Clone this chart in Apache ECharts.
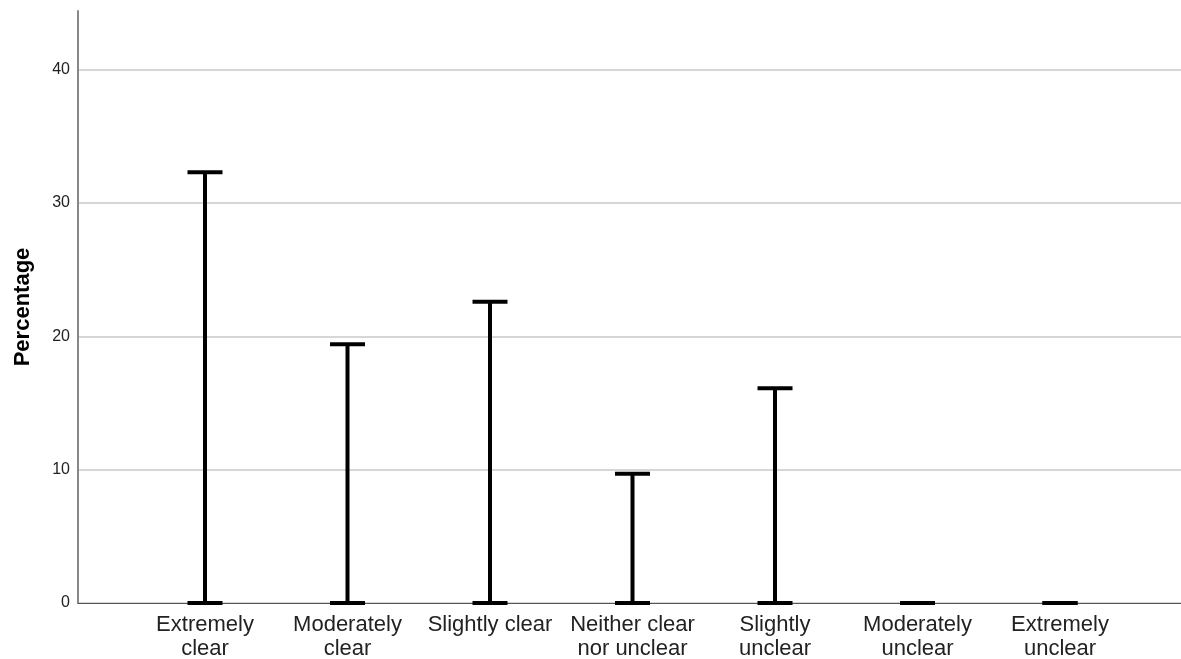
<!DOCTYPE html>
<html>
<head>
<meta charset="utf-8">
<script src="https://cdn.jsdelivr.net/npm/echarts@6/dist/echarts.min.js"></script>
<style>
  html, body { margin: 0; padding: 0; background: #fff; }
  #chart { width: 1181px; height: 659px; }
</style>
</head>
<body>
<div id="chart"></div>
<script>
// Response categories (two-line labels)
const categories = [
  'Extremely\nclear',
  'Moderately\nclear',
  'Slightly clear',
  'Neither clear\nnor unclear',
  'Slightly\nunclear',
  'Moderately\nunclear',
  'Extremely\nunclear'
];
// Percentage of responses per category
const percentages = [32.3, 19.4, 22.6, 9.7, 16.1, 0, 0];
// Y axis ticks
const yTicks = [0, 10, 20, 30, 40];
const yMax = 44.4;

const FONT = 'Liberation Sans, Arial, sans-serif';
const chart = echarts.init(document.getElementById('chart'), null, { renderer: 'canvas' });

// Draws a drop line from 0 to the value with a cap at each end
function renderDropLine(params, api) {
  const idx = api.value(0);
  const val = api.value(1);
  const top = api.coord([idx, val]);
  const bottom = api.coord([idx, 0]);
  const half = 17.5;
  const style = { stroke: '#000', lineWidth: 4, lineCap: 'butt' };
  return {
    type: 'group',
    children: [
      { type: 'line', shape: { x1: top[0], y1: top[1], x2: bottom[0], y2: bottom[1] }, style },
      { type: 'line', shape: { x1: top[0] - half, y1: top[1], x2: top[0] + half, y2: top[1] }, style },
      { type: 'line', shape: { x1: bottom[0] - half, y1: bottom[1], x2: bottom[0] + half, y2: bottom[1] }, style }
    ]
  };
}

const option = {
  animation: false,
  backgroundColor: '#fff',
  grid: [
    // frame: y axis, gridlines, baseline
    { left: 78, right: 0, top: 11, bottom: 56, outerBoundsMode: 'none' },
    // category band area
    { left: 133.75, right: 49.75, top: 11, bottom: 56, outerBoundsMode: 'none' }
  ],
  xAxis: [
    {
      gridIndex: 0, type: 'value', min: 0, max: 1,
      axisLine: { show: true, onZero: false, lineStyle: { color: '#555', width: 1 } },
      axisTick: { show: false }, axisLabel: { show: false }, splitLine: { show: false }
    },
    {
      gridIndex: 1, type: 'category', data: categories, boundaryGap: true,
      axisLine: { show: false }, axisTick: { show: false }, splitLine: { show: false },
      axisLabel: {
        interval: 0, margin: 10, color: '#222',
        fontFamily: FONT, fontSize: 22, lineHeight: 24
      }
    }
  ],
  yAxis: [
    {
      gridIndex: 0, type: 'value', min: 0, max: yMax, interval: 10,
      name: 'Percentage', nameLocation: 'middle', nameGap: 44, nameRotate: 90,
      nameTextStyle: { color: '#000', fontFamily: FONT, fontSize: 22, fontWeight: 'bold' },
      axisLine: { show: true, lineStyle: { color: '#888', width: 2 } },
      axisTick: { show: false },
      axisLabel: {
        margin: 8, color: '#222', fontFamily: FONT, fontSize: 16,
        showMaxLabel: false,
        formatter: v => (yTicks.includes(v) ? String(v) : '')
      },
      splitLine: { show: true, showMaxLine: false, lineStyle: { color: '#c8c8c8', width: 1.5 } }
    },
    {
      gridIndex: 1, type: 'value', min: 0, max: yMax, show: false
    }
  ],
  series: [
    {
      type: 'custom',
      xAxisIndex: 1, yAxisIndex: 1,
      renderItem: renderDropLine,
      data: percentages.map((v, i) => [i, v]),
      z: 10
    }
  ]
};

chart.setOption(option);
</script>
</body>
</html>
